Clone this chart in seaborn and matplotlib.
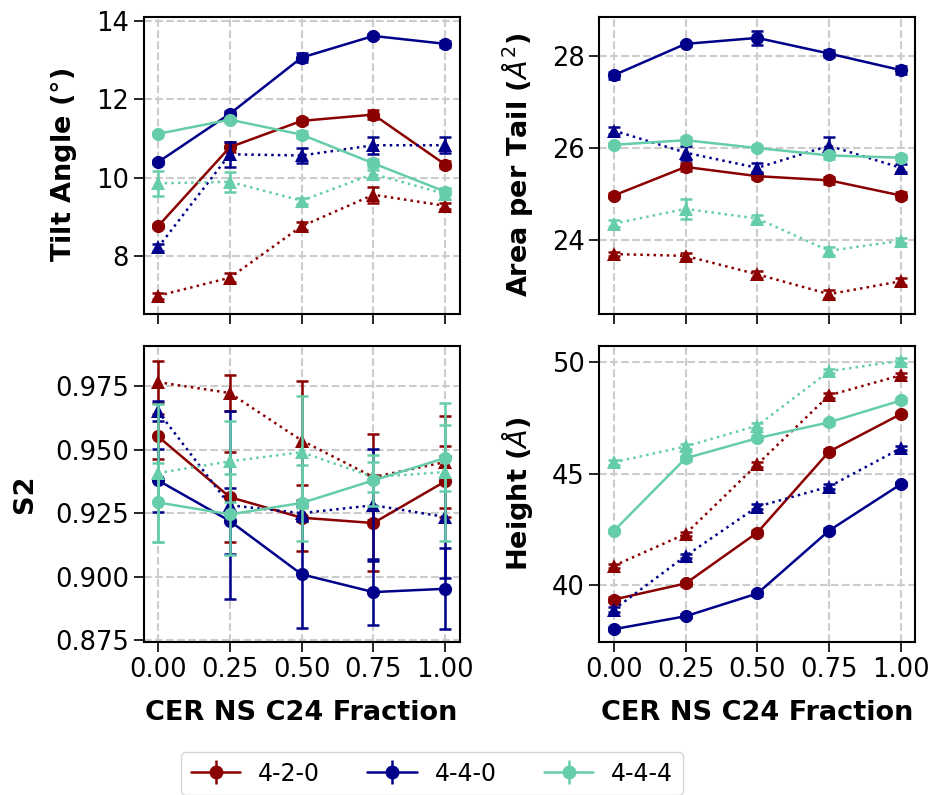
import numpy as np
import pandas as pd
import seaborn as sns
import matplotlib
matplotlib.use("Agg")
import matplotlib.pyplot as plt

sns.set_style("ticks")
plt.rcParams['font.family'] = ['DejaVu Sans']
plt.rcParams['mathtext.fontset'] = 'dejavusans'
for key in ['text.color', 'axes.labelcolor', 'xtick.color', 'ytick.color']:
    plt.rcParams[key] = 'black'

fractions = [0.0, 0.25, 0.5, 0.75, 1.0]
systems = ["4-2-0", "4-4-0", "4-4-4"]
colors = ["#8B0000", "#00008B", "#66CDAA"]

# tilt angle (deg)
tilt_solid = [[8.77, 10.78, 11.45, 11.61, 10.34],
              [10.40, 11.63, 13.06, 13.61, 13.41],
              [11.12, 11.48, 11.10, 10.37, 9.65]]
tilt_solid_err = [[0.05, 0.12, 0.08, 0.12, 0.08],
                  [0.05, 0.06, 0.12, 0.05, 0.08],
                  [0.04, 0.05, 0.08, 0.10, 0.08]]
tilt_dot = [[7.00, 7.46, 8.77, 9.57, 9.29],
            [8.23, 10.60, 10.57, 10.83, 10.83],
            [9.86, 9.90, 9.42, 10.10, 9.59]]
tilt_dot_err = [[0.08, 0.12, 0.10, 0.20, 0.08],
                [0.08, 0.32, 0.20, 0.22, 0.20],
                [0.32, 0.26, 0.08, 0.10, 0.12]]

# area per tail (A^2)
apt_solid = [[24.97, 25.59, 25.39, 25.30, 24.97],
             [27.58, 28.26, 28.39, 28.05, 27.69],
             [26.07, 26.17, 26.00, 25.84, 25.79]]
apt_solid_err = [[0.05, 0.08, 0.06, 0.08, 0.08],
                 [0.08, 0.05, 0.15, 0.08, 0.08],
                 [0.04, 0.08, 0.05, 0.08, 0.05]]
apt_dot = [[23.70, 23.66, 23.26, 22.83, 23.11],
           [26.38, 25.90, 25.57, 26.05, 25.57],
           [24.36, 24.68, 24.47, 23.77, 23.99]]
apt_dot_err = [[0.05, 0.06, 0.08, 0.08, 0.08],
               [0.08, 0.15, 0.10, 0.20, 0.08],
               [0.08, 0.22, 0.08, 0.08, 0.06]]

# S2 order parameter
s2_solid = [[0.9553, 0.9314, 0.9233, 0.9212, 0.9376],
            [0.9380, 0.9220, 0.9010, 0.8940, 0.8953],
            [0.9293, 0.9246, 0.9291, 0.9380, 0.9468]]
s2_solid_err = [[0.0088, 0.0177, 0.0130, 0.0190, 0.0140],
                [0.0125, 0.0130, 0.0210, 0.0129, 0.0160],
                [0.0156, 0.0160, 0.0150, 0.0100, 0.0130]]
s2_dot = [[0.9767, 0.9724, 0.9537, 0.9393, 0.9452],
          [0.9652, 0.9282, 0.9251, 0.9282, 0.9236],
          [0.9409, 0.9455, 0.9491, 0.9393, 0.9413]]
s2_dot_err = [[0.0083, 0.0072, 0.0236, 0.0170, 0.0180],
              [0.0040, 0.0370, 0.0030, 0.0220, 0.0240],
              [0.0270, 0.0160, 0.0220, 0.0060, 0.0270]]

# height (A)
height_solid = [[39.37, 40.09, 42.37, 46.00, 47.68],
                [38.04, 38.62, 39.64, 42.46, 44.54],
                [42.44, 45.70, 46.60, 47.31, 48.29]]
height_solid_err = [[0.10, 0.10, 0.10, 0.12, 0.10],
                    [0.10, 0.10, 0.10, 0.10, 0.10],
                    [0.10, 0.12, 0.10, 0.10, 0.10]]
height_dot = [[40.88, 42.31, 45.43, 48.52, 49.42],
              [38.92, 41.32, 43.53, 44.43, 46.15],
              [45.52, 46.23, 47.16, 49.60, 50.07]]
height_dot_err = [[0.10, 0.10, 0.12, 0.10, 0.10],
                  [0.10, 0.10, 0.10, 0.10, 0.10],
                  [0.10, 0.10, 0.10, 0.10, 0.10]]

panels = [
    ("Tilt Angle ($\\degree$)", tilt_solid, tilt_solid_err, tilt_dot, tilt_dot_err),
    ("Area per Tail ($\\AA^2$)", apt_solid, apt_solid_err, apt_dot, apt_dot_err),
    ("S2", s2_solid, s2_solid_err, s2_dot, s2_dot_err),
    ("Height ($\\AA$)", height_solid, height_solid_err, height_dot, height_dot_err),
]

tick_fs = 18.5
label_fs = 19.5

fig, axes = plt.subplots(2, 2, figsize=(9.33, 7.95), dpi=100, sharex=True)
fig.subplots_adjust(left=0.154, right=0.981, top=0.979, bottom=0.192,
                    wspace=0.443, hspace=0.108)

handles = []
for ax, (label, solid, solid_err, dot, dot_err) in zip(axes.flat, panels):
    for i, name in enumerate(systems):
        for vals, errs, ls, mk, ms in [(solid, solid_err, "-", "o", 9.5),
                                       (dot, dot_err, ":", "^", 10.5)]:
            df = pd.DataFrame({"x": fractions, "y": vals[i]})
            sns.lineplot(data=df, x="x", y="y", ax=ax, color=colors[i],
                         linestyle=ls, marker=mk, markersize=ms,
                         markeredgewidth=0, linewidth=1.8)
            ax.errorbar(fractions, vals[i], yerr=errs[i], fmt="none",
                        ecolor=colors[i], elinewidth=1.8, capsize=4,
                        capthick=1.8)
            if ls == "-" and ax is axes[0, 0]:
                h = ax.errorbar([], [], yerr=[], color=colors[i], marker="o",
                                markersize=9, linewidth=1.8, capsize=4,
                                capthick=1.8)
                handles.append((h, name))
    ax.set_ylabel(label, fontsize=label_fs, fontweight="bold", labelpad=12)
    ax.set_xlabel("")
    ax.grid(True, linestyle="--", color="#cccccc", linewidth=1.5)
    ax.tick_params(labelsize=tick_fs, length=7, width=1.2)
    for sp in ax.spines.values():
        sp.set_linewidth(1.5)
        sp.set_color("black")

axes[0, 0].set_yticks([8, 10, 12, 14])
axes[0, 0].set_ylim(6.55, 14.1)
axes[0, 1].set_yticks([24, 26, 28])
axes[0, 1].set_ylim(22.41, 28.85)
axes[1, 0].set_yticks([0.875, 0.900, 0.925, 0.950, 0.975])
axes[1, 0].set_ylim(0.8742, 0.9911)
axes[1, 1].set_yticks([40, 45, 50])
axes[1, 1].set_ylim(37.45, 50.75)
axes[1, 0].set_xticks(fractions)
axes[1, 0].set_xticklabels(["%.2f" % f for f in fractions])
for ax in axes[1]:
    ax.set_xlabel("CER NS C24 Fraction", fontsize=label_fs, fontweight="bold",
                  labelpad=12)

fig.legend([h for h, _ in handles], [n for _, n in handles], loc="upper center",
           bbox_to_anchor=(0.463, 0.054), borderaxespad=0, ncol=3,
           fontsize=17, frameon=True, handlelength=2.1, handletextpad=0.75,
           columnspacing=2.0)

fig.savefig("out.png", dpi=100)
